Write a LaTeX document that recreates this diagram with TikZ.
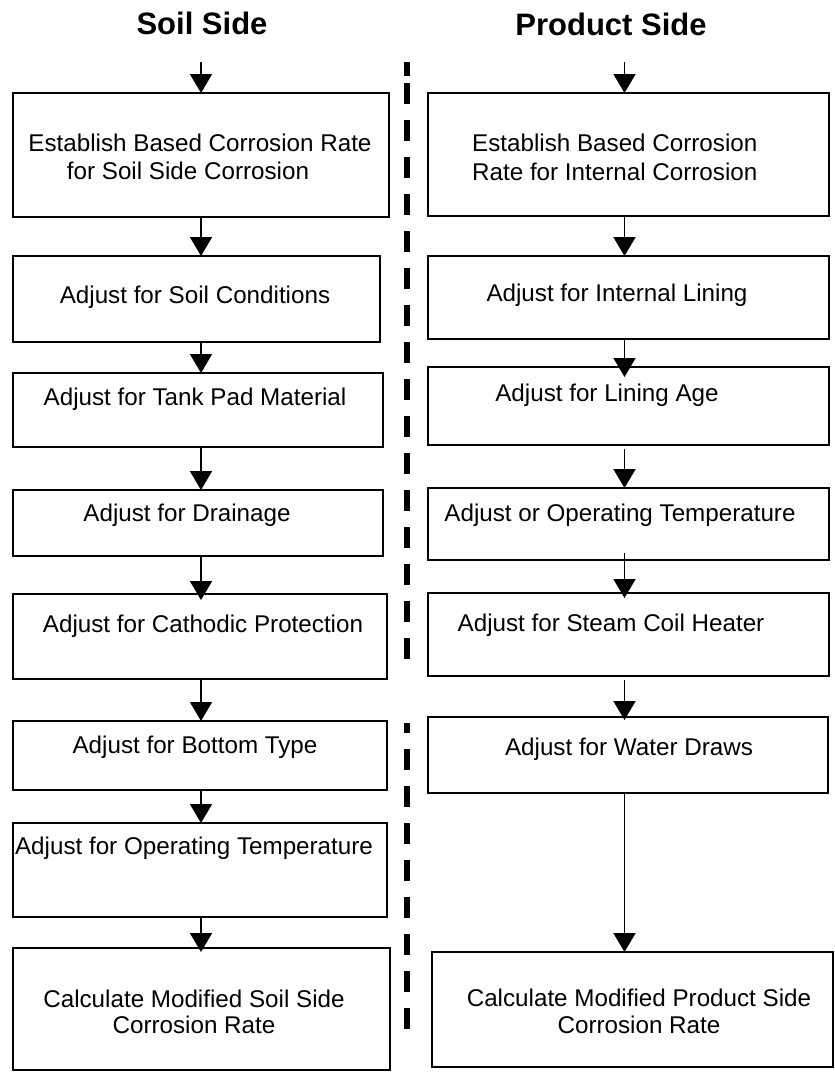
\documentclass[tikz,border=0pt]{standalone}
\usepackage{fontspec}
\setmainfont{Liberation Sans}
\usetikzlibrary{arrows.meta}
\begin{document}
\begin{tikzpicture}[x=1pt,y=-1pt,
  box/.style={draw,line width=2pt,inner sep=0pt,outer sep=0pt},
  txt/.style={inner sep=0pt,font=\fontsize{24.2}{28.5}\selectfont},
  txtb/.style={inner sep=0pt,font=\fontsize{24.2}{26.5}\selectfont},
  ttl/.style={inner sep=0pt,font=\fontsize{31}{36}\selectfont\bfseries},
  arr/.style={line width=1.8pt,-{Triangle[width=22pt,length=19pt]}},
  divider/.style={line width=5.5pt}]
\useasboundingbox (0,0) rectangle (835,1072);

% titles
\node[ttl,anchor=base] (tsoil) at (202,34) {Soil Side};
\node[ttl,anchor=base] (tprod) at (611,35) {Product Side};

% divider
\draw[divider] (407,62) -- (407,76);
\draw[divider,dash pattern=on 20.5pt off 16.5pt] (407,83) -- (407,659);
\draw[divider,dash pattern=on 20.5pt off 16.5pt,dash phase=11pt] (407,723) -- (407,1029);

% left boxes
\node[box,minimum width=376pt,minimum height=124pt] (L1) at (201,155) {};
\node[box,minimum width=367pt,minimum height=86pt] (L2) at (196.5,299) {};
\node[box,minimum width=370pt,minimum height=74pt] (L3) at (198,410) {};
\node[box,minimum width=370pt,minimum height=66pt] (L4) at (198,523) {};
\node[box,minimum width=374pt,minimum height=85pt] (L5) at (200,636.5) {};
\node[box,minimum width=374pt,minimum height=69pt] (L6) at (200,755.5) {};
\node[box,minimum width=374pt,minimum height=94pt] (L7) at (200,870) {};
\node[box,minimum width=377pt,minimum height=122pt] (L8) at (201.5,1009) {};

% right boxes
\node[box,minimum width=401pt,minimum height=123pt] (R1) at (628.5,154.5) {};
\node[box,minimum width=401pt,minimum height=83pt] (R2) at (628.5,297.5) {};
\node[box,minimum width=401pt,minimum height=78pt] (R3) at (628.5,406) {};
\node[box,minimum width=401pt,minimum height=72pt] (R4) at (628.5,524) {};
\node[box,minimum width=401pt,minimum height=83pt] (R5) at (628.5,634.5) {};
\node[box,minimum width=400pt,minimum height=76pt] (R6) at (628,755) {};
\node[box,minimum width=401pt,minimum height=115pt] (R7) at (632.5,1009.5) {};

% left texts
\node[txt,align=center] (L1t) at (200,157) {Establish Based Corrosion Rate\\for Soil Side Corrosion\kern24pt};
\node[txt,anchor=base] (L2t) at (195,303) {Adjust for Soil Conditions};
\node[txt,anchor=base] (L3t) at (195,405.5) {Adjust for Tank Pad Material};
\node[txt,anchor=base] (L4t) at (187,521.5) {Adjust for Drainage};
\node[txt,anchor=base] (L5t) at (203,632.5) {Adjust for Cathodic Protection};
\node[txt,anchor=base] (L6t) at (195,753.5) {Adjust for Bottom Type};
\node[txt,anchor=base] (L7t) at (194,854.5) {Adjust for Operating Temperature};
\node[txtb,align=center] (L8t) at (194,1012) {Calculate Modified Soil Side\\Corrosion Rate};

% right texts
\node[txt,align=left,anchor=west] (R1t) at (472,157.5) {Establish Based Corrosion\\Rate for Internal Corrosion};
\node[txt,anchor=base] (R2t) at (617,301.5) {Adjust for Internal Lining};
\node[txt,anchor=base] (R3t) at (607,401.5) {Adjust for Lining Age};
\node[txt,anchor=base] (R4t) at (620,521.5) {Adjust or Operating Temperature};
\node[txt,anchor=base] (R5t) at (611,631.5) {Adjust for Steam Coil Heater};
\node[txt,anchor=base] (R6t) at (629,755.5) {Adjust for Water Draws};
\node[txtb,align=center] (R7t) at (639,1011.5) {Calculate Modified Product Side\\Corrosion Rate};

% arrow columns
\coordinate (lx) at (201,0);
\coordinate (rx) at (624.5,0);
\coordinate (Ltop) at (201,62);
\coordinate (Rtop) at (624.5,62);

% left arrows
\draw[arr] (Ltop) -- (L1.north -| lx);
\draw[arr] (L1.south -| lx) -- (L2.north -| lx);
\draw[arr] (L2.south -| lx) -- (L3.north -| lx);
\draw[arr] (L3.south -| lx) -- (L4.north -| lx);
\draw[arr,shorten >=-6pt] (L4.south -| lx) -- (L5.north -| lx);
\draw[arr] (L5.south -| lx) -- (L6.north -| lx);
\draw[arr] (L6.south -| lx) -- (L7.north -| lx);
\draw[arr,shorten >=-4pt] (L7.south -| lx) -- (L8.north -| lx);

% right arrows
\draw[arr] (Rtop) -- (R1.north -| rx);
\draw[arr] (R1.south -| rx) -- (R2.north -| rx);
\draw[arr,shorten >=-10pt] (R2.south -| rx) -- (R3.north -| rx);
\draw[arr,shorten <=4pt] (R3.south -| rx) -- (R4.north -| rx);
\draw[arr,shorten <=-7pt,shorten >=-5pt] (R4.south -| rx) -- (R5.north -| rx);
\draw[arr,shorten <=4pt,shorten >=-3pt] (R5.south -| rx) -- (R6.north -| rx);
\draw[arr] (R6.south -| rx) -- (R7.north -| rx);
\end{tikzpicture}
\end{document}
